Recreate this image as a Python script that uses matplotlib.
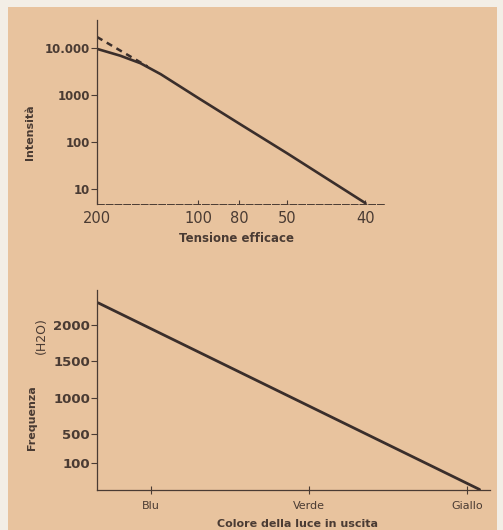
import numpy as np
import matplotlib as mpl

mpl.use("Agg")
import matplotlib.pyplot as plt
from matplotlib.patches import Rectangle

# Top chart: intensity against effective voltage (log y)
volt_ticks = [200, 100, 80, 50, 40]
int_ticks = [10, 100, 1000, 10000]
int_tick_labels = ["10", "100", "1000", "10.000"]

volt_solid = [200, 177, 157, 137, 100, 80, 50, 40]
int_solid = [9500, 6800, 4700, 2750, 860, 245, 57, 5]
volt_dashed = [200, 150]
int_dashed = [17000, 4000]

# Bottom chart: frequency against output colour
colours = ["Blu", "Verde", "Giallo"]
freq_ticks = [100, 500, 1000, 1500, 2000]
colour_pos = [-0.335, 2.08]
freq_line = [2300, -260]

BG = "#E8C39E"
PAPER = "#F3EEE6"
INK = "#4A3B33"
LINE = "#3A2E2B"

# the hand-drawn voltage axis is not evenly spaced: map it piecewise
scale_volts = np.array([30, 40, 50, 80, 100, 200])
scale_pos = np.array([-346, -268, -190, -142, -101, 0])


def volt_fwd(v):
    return np.interp(np.asarray(v, dtype=float), scale_volts, scale_pos)


def volt_inv(p):
    return np.interp(np.asarray(p, dtype=float), scale_pos, scale_volts)


W, H = 503, 530
fig = plt.figure(figsize=(W / 100, H / 100), dpi=100)
fig.patch.set_facecolor(PAPER)
fig.add_artist(
    Rectangle((8 / W, 0), 489 / W, 1 - 7 / H, transform=fig.transFigure,
              facecolor=BG, edgecolor="none", zorder=-10)
)

# ---- top chart ----
ax1 = fig.add_axes([97 / W, 1 - 204 / H, 288 / W, 184 / H])
ax1.set_facecolor("none")
ax1.set_xscale("function", functions=(volt_fwd, volt_inv))
ax1.set_yscale("log")
ax1.plot(volt_solid, int_solid, color=LINE, lw=1.9, solid_capstyle="round",
         solid_joinstyle="round")
ax1.plot(volt_dashed, int_dashed, color=LINE, lw=1.8, ls=(0, (2.5, 2)))
ax1.set_xticks(volt_ticks)
ax1.set_xticklabels([str(v) for v in volt_ticks])
ax1.set_yticks(int_ticks)
ax1.set_yticklabels(int_tick_labels)
ax1.minorticks_off()
ax1.set_xlim(200, 37.5)
ax1.set_ylim(4.8, 39000)
ax1.tick_params(axis="x", direction="in", length=3, width=0.8, pad=5,
                colors=INK, labelsize=10.5)
ax1.tick_params(axis="y", direction="out", length=4, width=0.8, pad=1,
                colors=INK, labelsize=8.5)
for lab in ax1.get_yticklabels():
    lab.set_fontweight("bold")
for s in ["top", "right"]:
    ax1.spines[s].set_visible(False)
ax1.spines["left"].set_color(INK)
ax1.spines["left"].set_linewidth(0.9)
ax1.spines["bottom"].set_color(INK)
ax1.spines["bottom"].set_linewidth(0.7)
ax1.spines["bottom"].set_linestyle((0, (7, 2)))
ax1.set_ylabel("Intensità", fontsize=8, fontweight="bold", color=INK)
ax1.yaxis.set_label_coords(-0.215, 0.39)
ax1.set_xlabel("Tensione efficace", fontsize=8.5, fontweight="bold", color=INK)
ax1.xaxis.set_label_coords(0.486, -0.15)

# ---- bottom chart ----
ax2 = fig.add_axes([97 / W, 1 - 490 / H, 393 / W, 200 / H])
ax2.set_facecolor("none")
ax2.plot(colour_pos, freq_line, color=LINE, lw=2.0, solid_capstyle="round")
ax2.set_xlim(-0.342, 2.146)
ax2.set_ylim(-267, 2476)
ax2.set_xticks(range(len(colours)))
ax2.set_xticklabels(colours)
ax2.set_yticks(freq_ticks)
ax2.set_yticklabels([str(f) for f in freq_ticks])
ax2.tick_params(axis="x", direction="inout", length=6, width=0.8, pad=5,
                colors=INK, labelsize=8)
ax2.tick_params(axis="y", direction="out", length=4, width=0.8, pad=1,
                colors=INK, labelsize=9.5)
for lab in ax2.get_yticklabels():
    lab.set_fontweight("bold")
for s in ["top", "right"]:
    ax2.spines[s].set_visible(False)
for s in ["left", "bottom"]:
    ax2.spines[s].set_color(INK)
    ax2.spines[s].set_linewidth(0.9)
ax2.set_ylabel("Frequenza", fontsize=8, fontweight="bold", color=INK)
ax2.yaxis.set_label_coords(-0.153, 0.36)
ax2.text(-0.142, 0.77, "(H2O)", transform=ax2.transAxes, rotation=90,
         ha="center", va="center", fontsize=9, color=INK)
ax2.set_xlabel("Colore della luce in uscita", fontsize=8, fontweight="bold",
               color=INK)
ax2.xaxis.set_label_coords(0.511, -0.145)

fig.savefig("out.png", dpi=100, facecolor=fig.get_facecolor())
